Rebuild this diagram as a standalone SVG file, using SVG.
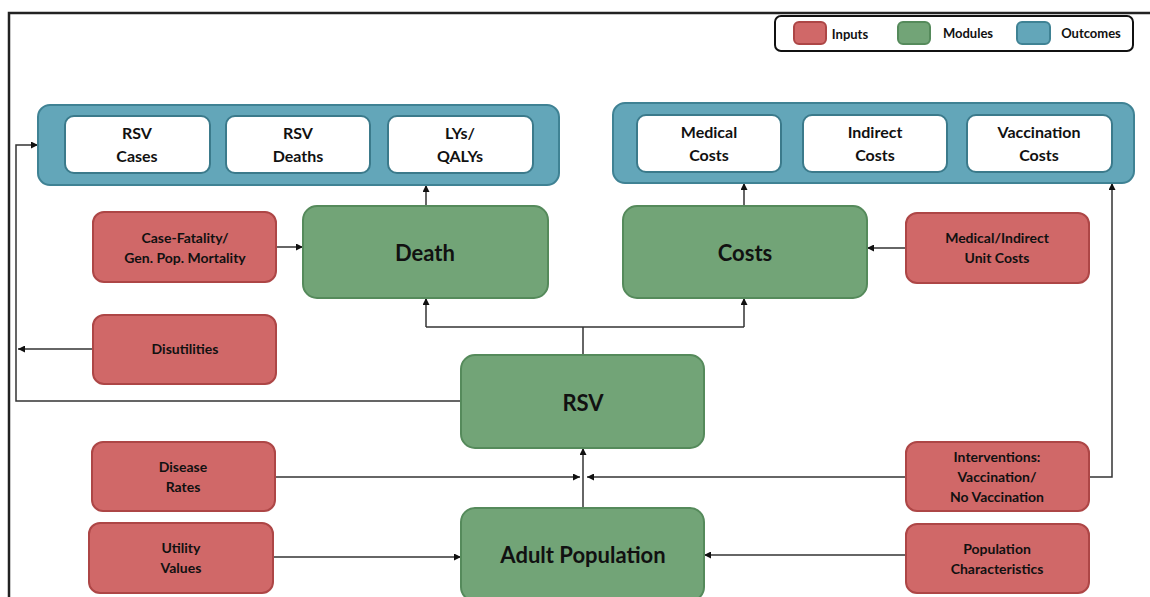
<svg xmlns="http://www.w3.org/2000/svg" width="1150" height="597" viewBox="0 0 1150 597">
<style>
text{font-family:Lato,"Liberation Sans",sans-serif;font-weight:bold;fill:#111;text-anchor:middle}
.in{fill:#d06868;stroke:#ad4646;stroke-width:2}
.mod{fill:#72a477;stroke:#558a5b;stroke-width:2}
.out{fill:#63a6b9;stroke:#3f8294;stroke-width:2}
.wb{fill:#fff;stroke:#3b7a8b;stroke-width:2}
.t14{font-size:14px}
.t16{font-size:16px}
.t22{font-size:22px}
.t13{font-size:13px}
.c{fill:none;stroke:#333;stroke-width:1.5}
</style>
<defs>
<marker id="ah" viewBox="0 0 10 10" refX="10" refY="5" markerWidth="7" markerHeight="7" markerUnits="userSpaceOnUse" orient="auto">
<path d="M0,0 L10,5 L0,10 z" fill="#111"/>
</marker>
</defs>
<rect width="1150" height="597" fill="#fff"/>
<path d="M9,597 V13 H1150" fill="none" stroke="#222" stroke-width="2.5"/>

<g id="legend">
<rect x="775" y="16" width="358" height="35" rx="6" fill="#fff" stroke="#111" stroke-width="2"/>
<rect x="794" y="22" width="32" height="22" rx="5" class="in"/>
<text x="850" y="39" class="t13">Inputs</text>
<rect x="898" y="22" width="32" height="22" rx="5" class="mod"/>
<text x="968" y="38" class="t13">Modules</text>
<rect x="1017" y="22" width="33" height="22" rx="5" class="out"/>
<text x="1091" y="38" class="t13">Outcomes</text>
</g>

<g id="connectors">
<path class="c" d="M461,401 H16 V145 H38" marker-end="url(#ah)"/>
<path class="c" d="M93,349 H18" marker-end="url(#ah)"/>
<path class="c" d="M276,247 H303" marker-end="url(#ah)"/>
<path class="c" d="M906,248 H867" marker-end="url(#ah)"/>
<path class="c" d="M426,206 V185" marker-end="url(#ah)"/>
<path class="c" d="M744,206 V183" marker-end="url(#ah)"/>
<path class="c" d="M583,355 V327"/>
<path class="c" d="M426,327 H744"/>
<path class="c" d="M426,327 V298" marker-end="url(#ah)"/>
<path class="c" d="M744,327 V298" marker-end="url(#ah)"/>
<path class="c" d="M583,508 V448" marker-end="url(#ah)"/>
<path class="c" d="M275,477 H580" marker-end="url(#ah)"/>
<path class="c" d="M906,477 H587" marker-end="url(#ah)"/>
<path class="c" d="M1089,477 H1112 V183" marker-end="url(#ah)"/>
<path class="c" d="M273,557 H461" marker-end="url(#ah)"/>
<path class="c" d="M906,555 H704" marker-end="url(#ah)"/>
</g>

<g id="outcomes-health">
<rect x="38" y="105" width="521" height="80" rx="12" class="out"/>
</g>
<g id="rsv-cases">
<rect x="65" y="116" width="145" height="57" rx="9" class="wb"/>
<text x="137" y="139" class="t16">RSV</text>
<text x="137" y="162" class="t16">Cases</text>
</g>
<g id="rsv-deaths">
<rect x="226" y="116" width="144" height="57" rx="9" class="wb"/>
<text x="298" y="139" class="t16">RSV</text>
<text x="298" y="162" class="t16">Deaths</text>
</g>
<g id="lys-qalys">
<rect x="388" y="116" width="145" height="57" rx="9" class="wb"/>
<text x="460" y="139" class="t16">LYs/</text>
<text x="460" y="162" class="t16">QALYs</text>
</g>

<g id="outcomes-costs">
<rect x="613" y="103" width="521" height="80" rx="12" class="out"/>
</g>
<g id="medical-costs">
<rect x="637" y="115" width="144" height="57" rx="9" class="wb"/>
<text x="709" y="138" class="t16">Medical</text>
<text x="709" y="161" class="t16">Costs</text>
</g>
<g id="indirect-costs">
<rect x="803" y="115" width="144" height="57" rx="9" class="wb"/>
<text x="875" y="138" class="t16">Indirect</text>
<text x="875" y="161" class="t16">Costs</text>
</g>
<g id="vaccination-costs">
<rect x="967" y="115" width="145" height="57" rx="9" class="wb"/>
<text x="1039" y="138" class="t16">Vaccination</text>
<text x="1039" y="161" class="t16">Costs</text>
</g>

<g id="death">
<rect x="303" y="206" width="245" height="92" rx="14" class="mod"/>
<text x="425" y="261" class="t22">Death</text>
</g>
<g id="costs">
<rect x="623" y="206" width="244" height="92" rx="14" class="mod"/>
<text x="745" y="261" class="t22">Costs</text>
</g>
<g id="rsv">
<rect x="461" y="355" width="243" height="93" rx="14" class="mod"/>
<text x="583" y="411" class="t22">RSV</text>
</g>
<g id="adult-population">
<rect x="461" y="508" width="243" height="93" rx="14" class="mod"/>
<text x="583" y="563" class="t22">Adult Population</text>
</g>

<g id="case-fatality">
<rect x="93" y="212" width="183" height="70" rx="11" class="in"/>
<text x="185" y="243" class="t14">Case-Fatality/</text>
<text x="185" y="263" class="t14">Gen. Pop. Mortality</text>
</g>
<g id="disutilities">
<rect x="93" y="315" width="183" height="69" rx="11" class="in"/>
<text x="185" y="354" class="t14">Disutilities</text>
</g>
<g id="medical-indirect-unit-costs">
<rect x="906" y="213" width="183" height="70" rx="11" class="in"/>
<text x="997" y="243" class="t14">Medical/Indirect</text>
<text x="997" y="263" class="t14">Unit Costs</text>
</g>
<g id="disease-rates">
<rect x="92" y="442" width="183" height="69" rx="11" class="in"/>
<text x="183" y="472" class="t14">Disease</text>
<text x="183" y="492" class="t14">Rates</text>
</g>
<g id="interventions">
<rect x="906" y="442" width="183" height="69" rx="11" class="in"/>
<text x="997" y="462" class="t14">Interventions:</text>
<text x="997" y="482" class="t14">Vaccination/</text>
<text x="997" y="502" class="t14">No Vaccination</text>
</g>
<g id="utility-values">
<rect x="89" y="523" width="184" height="70" rx="11" class="in"/>
<text x="181" y="553" class="t14">Utility</text>
<text x="181" y="573" class="t14">Values</text>
</g>
<g id="population-characteristics">
<rect x="906" y="524" width="183" height="69" rx="11" class="in"/>
<text x="997" y="554" class="t14">Population</text>
<text x="997" y="574" class="t14">Characteristics</text>
</g>
</svg>
